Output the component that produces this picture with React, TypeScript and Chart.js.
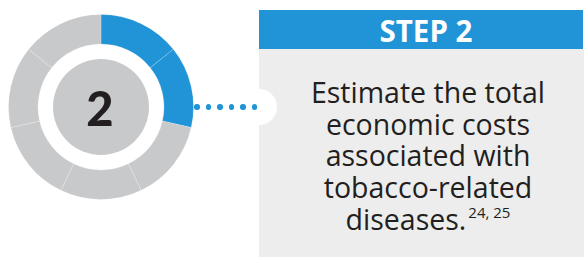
import React, { useEffect, useRef } from "react";
import { Chart, registerables } from "chart.js";

Chart.register(...registerables);

const segmentLabels = ["Step 1", "Step 2", "Step 3", "Step 4", "Step 5", "Step 6", "Step 7"];
const segmentValues = [1, 1, 1, 1, 1, 1, 1];
const highlightedCount = 2;
const stepNumber = "2";
const stepTitle = "STEP 2";
const stepLines = ["Estimate the total", "economic costs", "associated with", "tobacco-related", "diseases."];
const stepRefs = "24, 25";

const BLUE = "#2094d6";
const RING_GRAY = "#c8c9cb";
const BOX_GRAY = "#ededed";
const TEXT = "#231f20";

const innerDisk = {
  id: "innerDisk",
  afterDatasetsDraw(chart: any) {
    const meta = chart.getDatasetMeta(0);
    const arc = meta.data[0];
    if (!arc) return;
    const { x, y } = arc.getProps(["x", "y"], true);
    const ctx = chart.ctx;
    ctx.save();
    ctx.beginPath();
    ctx.arc(x, y, 48, 0, Math.PI * 2);
    ctx.fillStyle = RING_GRAY;
    ctx.fill();
    ctx.restore();
  },
};

export default function App() {
  const ref = useRef<HTMLCanvasElement | null>(null);

  useEffect(() => {
    if (!ref.current) return;
    const chart = new Chart(ref.current, {
      type: "doughnut",
      data: {
        labels: segmentLabels,
        datasets: [
          {
            data: segmentValues,
            backgroundColor: segmentValues.map((_, i) => (i < highlightedCount ? BLUE : RING_GRAY)),
            borderColor: "rgba(255,255,255,0.2)",
            borderWidth: 1,
          },
        ],
      },
      options: {
        animation: false,
        responsive: false,
        maintainAspectRatio: false,
        cutout: 63,
        layout: { padding: 0 },
        plugins: { legend: { display: false }, tooltip: { enabled: false } },
      },
      plugins: [innerDisk],
    });
    return () => chart.destroy();
  }, []);

  const dots = [197, 208.5, 220, 231.5, 243, 254.5];

  return (
    <div style={{ position: "absolute", left: 0, top: 0, width: 584, height: 257, background: "#fff", overflow: "hidden" }}>
      <canvas ref={ref} width={186} height={186} style={{ position: "absolute", left: 8, top: 14, width: 186, height: 186 }} />
      <div
        style={{
          position: "absolute", left: 53, top: 61, width: 94, height: 94,
          display: "flex", alignItems: "center", justifyContent: "center",
          fontFamily: "Lato, sans-serif", fontWeight: 900, fontSize: 47, color: TEXT, lineHeight: 1,
        }}
      >
        {stepNumber}
      </div>
      <div style={{ position: "absolute", left: 259, top: 10, width: 324, height: 39, background: BLUE }} />
      <div
        style={{
          position: "absolute", left: 264, top: 10, width: 324, height: 39, lineHeight: "41px", textAlign: "center",
          fontFamily: "'Open Sans', sans-serif", fontWeight: 700, fontSize: 29.5, color: "#fff",
        }}
      >
        {stepTitle}
      </div>
      <div style={{ position: "absolute", left: 259, top: 49, width: 325, height: 208, background: BOX_GRAY }} />
      <div style={{ position: "absolute", left: 241, top: 89, width: 36, height: 36, borderRadius: "50%", background: "#fff" }} />
      {dots.map((x, i) => (
        <div key={i} style={{ position: "absolute", left: x - 2.7, top: 107 - 2.7, width: 5.4, height: 5.4, borderRadius: "50%", background: BLUE }} />
      ))}
      <div
        style={{
          position: "absolute", left: 262, top: 77, width: 332, textAlign: "center",
          fontFamily: "'Open Sans', sans-serif", fontSize: 28.5, lineHeight: "31.7px", color: TEXT,
        }}
      >
        {stepLines.map((l, i) => (
          <React.Fragment key={i}>
            {l}
            {i === stepLines.length - 1 ? (
              <span style={{ fontSize: 15, position: "relative", top: -12, marginLeft: 2 }}>{stepRefs}</span>
            ) : null}
            {i < stepLines.length - 1 ? <br /> : null}
          </React.Fragment>
        ))}
      </div>
    </div>
  );
}
